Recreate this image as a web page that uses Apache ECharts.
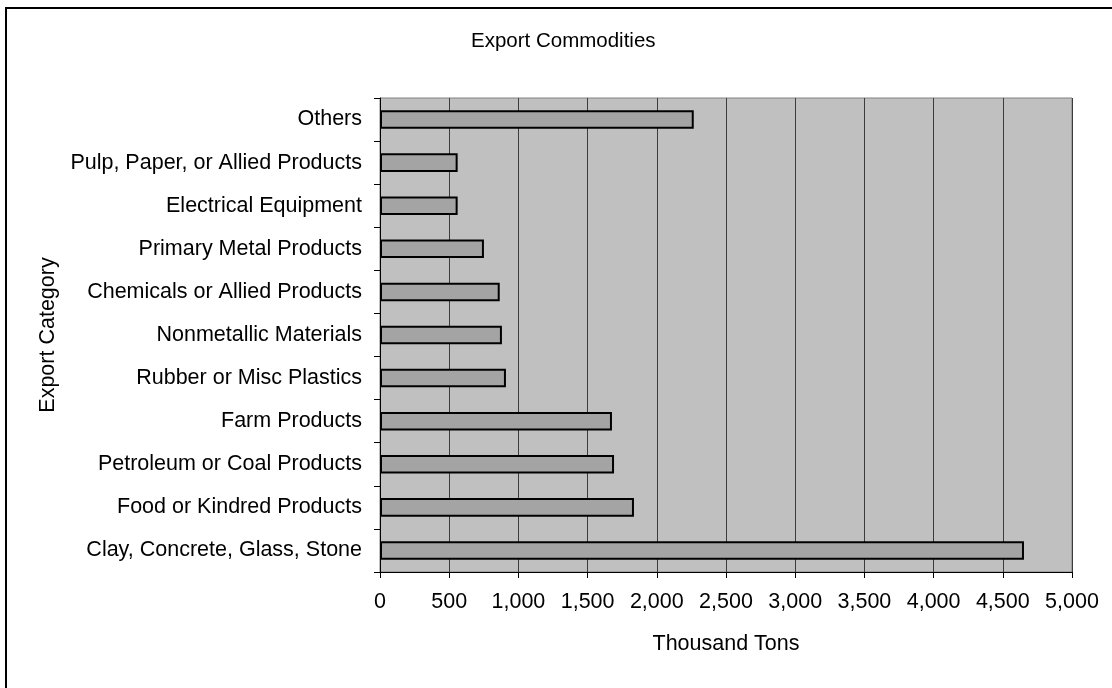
<!DOCTYPE html>
<html>
<head>
    <meta charset="utf-8">
    <title>Export Commodities</title>
    <script src="https://cdn.jsdelivr.net/npm/echarts@6/dist/echarts.min.js"></script>
    <style>
        html, body { margin: 0; padding: 0; background: #fff; }
        #main { width: 1112px; height: 688px; }
    </style>
</head>
<body>
    <div id="main"></div>
    <script type="text/javascript">
        // categories, bottom to top (category axis starts at the bottom)
        var categories = [
            'Clay, Concrete, Glass, Stone',
            'Food or Kindred Products',
            'Petroleum or Coal Products',
            'Farm Products',
            'Rubber or Misc Plastics',
            'Nonmetallic Materials',
            'Chemicals or Allied Products',
            'Primary Metal Products',
            'Electrical Equipment',
            'Pulp, Paper, or Allied Products',
            'Others'
        ];
        // thousand tons
        var tons = [4653, 1835, 1691, 1676, 910, 881, 865, 751, 561, 561, 2267];

        var xTicks = [0, 500, 1000, 1500, 2000, 2500, 3000, 3500, 4000, 4500, 5000];

        var font = 'Arial, "Liberation Sans", sans-serif';
        var fs = 21.5;

        function addCommas(v) {
            return String(v).replace(/\B(?=(\d{3})+(?!\d))/g, ',');
        }

        var myChart = echarts.init(document.getElementById('main'));

        var option = {
            backgroundColor: '#fff',
            animation: false,
            title: {
                text: 'Export Commodities',
                left: 466,
                top: 26,
                textStyle: {
                    fontFamily: font,
                    fontSize: 20.5,
                    fontWeight: 'normal',
                    color: '#000'
                }
            },
            graphic: [{
                // outer chart border
                type: 'rect',
                shape: { x: 6, y: 8, width: 1200, height: 800 },
                style: { fill: 'none', stroke: '#000', lineWidth: 2 },
                silent: true
            }],
            grid: {
                left: 380,
                right: 40,
                top: 98,
                bottom: 116,
                show: true,
                backgroundColor: '#c0c0c0',
                borderColor: '#808080',
                borderWidth: 1
            },
            xAxis: {
                type: 'value',
                min: xTicks[0],
                max: xTicks[xTicks.length - 1],
                interval: 500,
                name: 'Thousand Tons',
                nameLocation: 'middle',
                nameGap: 61,
                nameTextStyle: { fontFamily: font, fontSize: fs, color: '#000' },
                axisLine: { show: true, lineStyle: { color: '#000', width: 1 } },
                axisTick: { show: true, length: 6, lineStyle: { color: '#000' } },
                axisLabel: {
                    margin: 19,
                    fontFamily: font,
                    fontSize: fs,
                    color: '#000',
                    formatter: function (v) { return addCommas(v); }
                },
                splitLine: { show: true, lineStyle: { color: '#3c3c3c', width: 1 } }
            },
            yAxis: {
                type: 'category',
                data: categories,
                name: 'Export Category',
                nameLocation: 'middle',
                nameRotate: 90,
                nameGap: 321,
                nameTextStyle: { fontFamily: font, fontSize: fs, color: '#000' },
                axisLine: { show: true, lineStyle: { color: '#000', width: 1 } },
                axisTick: { show: true, length: 6, lineStyle: { color: '#000' } },
                axisLabel: {
                    margin: 18,
                    fontFamily: font,
                    fontSize: fs,
                    color: '#000'
                },
                splitLine: { show: false }
            },
            series: [{
                type: 'bar',
                data: tons,
                barWidth: '43%',
                itemStyle: {
                    color: '#a4a4a4',
                    borderColor: '#000',
                    borderWidth: 2
                }
            }]
        };

        myChart.setOption(option);
    </script>
</body>
</html>
